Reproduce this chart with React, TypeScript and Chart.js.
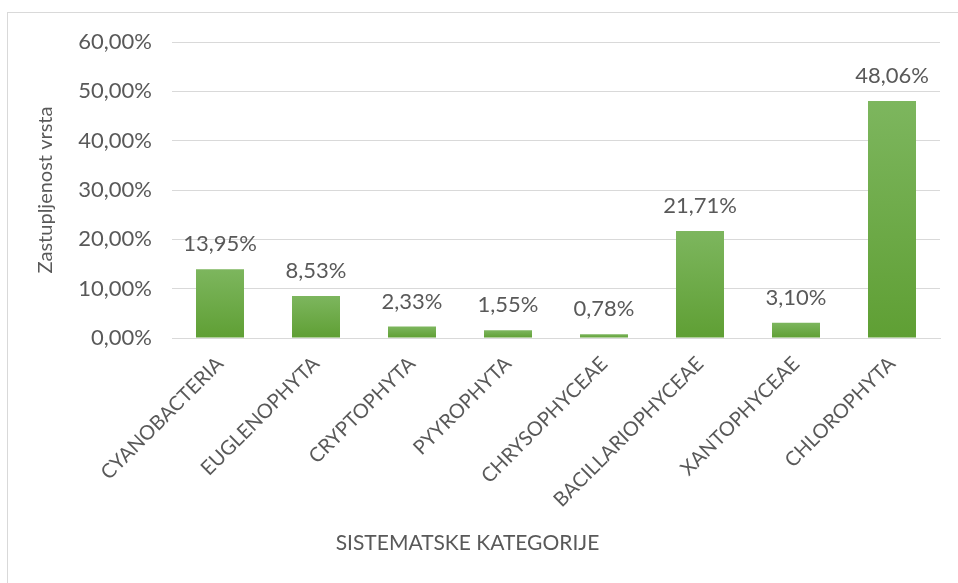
import React, { useEffect, useRef } from "react";
import { Chart, registerables } from "chart.js";

Chart.register(...registerables);

const categories = [
  "CYANOBACTERIA",
  "EUGLENOPHYTA",
  "CRYPTOPHYTA",
  "PYYROPHYTA",
  "CHRYSOPHYCEAE",
  "BACILLARIOPHYCEAE",
  "XANTOPHYCEAE",
  "CHLOROPHYTA",
];
const values = [13.95, 8.53, 2.33, 1.55, 0.78, 21.71, 3.1, 48.06];
const yTicks = [0, 10, 20, 30, 40, 50, 60];
const yTitle = "Zastupljenost vrsta";
const xTitle = "SISTEMATSKE KATEGORIJE";

const FONT = "Lato, 'Open Sans', sans-serif";
const TEXT = "#595959";

const fmt = (v: number) => v.toFixed(2).replace(".", ",") + "%";

const labelPlugin = {
  id: "valueLabels",
  afterDatasetsDraw(chart: any) {
    const { ctx } = chart;
    const meta = chart.getDatasetMeta(0);
    ctx.save();
    ctx.font = `22px ${FONT}`;
    ctx.fillStyle = TEXT;
    ctx.textAlign = "center";
    ctx.textBaseline = "alphabetic";
    meta.data.forEach((bar: any, i: number) => {
      ctx.fillText(fmt(values[i]), bar.x, bar.y - 18);
    });
    ctx.restore();
  },
};

const xTitlePlugin = {
  id: "xTitle",
  afterDraw(chart: any) {
    const { ctx } = chart;
    ctx.save();
    ctx.font = `21px ${FONT}`;
    ctx.fillStyle = TEXT;
    ctx.textAlign = "center";
    ctx.textBaseline = "middle";
    ctx.fillText(xTitle, chart.width * 0.488, 543);
    ctx.restore();
  },
};

export default function App() {
  const ref = useRef<HTMLCanvasElement | null>(null);
  useEffect(() => {
    if (!ref.current) return;
    const chart = new Chart(ref.current, {
      type: "bar",
      data: {
        labels: categories,
        datasets: [
          {
            data: values,
            barPercentage: 0.5,
            categoryPercentage: 1,
            backgroundColor: (c: any) => {
              const ch = c.chart;
              const area = ch.chartArea;
              if (!area || c.parsed == null) return "#70ad47";
              const ys = ch.scales.y;
              const top = ys.getPixelForValue(c.parsed.y);
              const bottom = ys.getPixelForValue(0);
              const g = ch.ctx.createLinearGradient(0, top, 0, bottom);
              g.addColorStop(0, "#7db65e");
              g.addColorStop(1, "#5f9f34");
              return g;
            },
            borderWidth: 0,
          },
        ],
      },
      options: {
        animation: false,
        responsive: false,
        layout: { padding: { left: 34, top: 42, right: 18, bottom: 0 } },
        plugins: { legend: { display: false }, tooltip: { enabled: false } },
        scales: {
          x: {
            grid: { display: false, drawTicks: false },
            border: { display: true, color: "#d9d9d9", width: 1 },
            ticks: {
              color: TEXT,
              font: { family: FONT, size: 20 },
              minRotation: 45,
              maxRotation: 45,
              padding: 14,
              autoSkip: false,
            },
            afterFit: (s: any) => {
              s.height = 583 - 338;
            },
          },
          y: {
            min: 0,
            max: 60,
            afterBuildTicks: (s: any) => {
              s.ticks = yTicks.map((v) => ({ value: v }));
            },
            grid: { color: "#d9d9d9", drawTicks: false },
            border: { display: false },
            ticks: {
              color: TEXT,
              font: { family: FONT, size: 22 },
              padding: 20,
              callback: (v: any) => fmt(Number(v)),
            },
            title: {
              display: true,
              text: yTitle,
              color: TEXT,
              font: { family: FONT, size: 20 },
              padding: { top: 0, bottom: 0 },
            },
            afterFit: (s: any) => {
              s.width = 172 - 34;
            },
          },
        },
      },
      plugins: [labelPlugin, xTitlePlugin],
    });
    return () => chart.destroy();
  }, []);

  return (
    <div style={{ position: "fixed", left: 0, top: 0, width: 958, height: 583, background: "#fff", overflow: "hidden" }}>
      <div
        style={{
          position: "absolute",
          left: 7,
          top: 12,
          width: 970,
          height: 600,
          border: "1.5px solid #d9d9d9",
          boxSizing: "border-box",
        }}
      />
      <canvas ref={ref} width={958} height={583} style={{ position: "absolute", left: 0, top: 0 }} />
    </div>
  );
}
